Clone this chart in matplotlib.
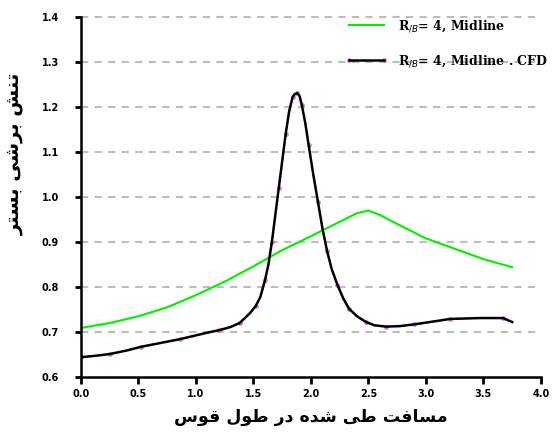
import matplotlib
matplotlib.use("Agg")
import matplotlib.pyplot as plt

# Midline bed shear stress along the bend
green_x = [0.0, 0.25, 0.5, 0.75, 1.0, 1.25, 1.5, 1.75, 2.0, 2.25, 2.4, 2.5, 2.6, 2.75, 3.0, 3.25, 3.5, 3.75]
green_y = [0.709, 0.720, 0.735, 0.755, 0.782, 0.812, 0.846, 0.882, 0.913, 0.945, 0.964, 0.970, 0.960, 0.940, 0.908, 0.885, 0.862, 0.844]

black_x = [0.0, 0.12, 0.25, 0.40, 0.52, 0.70, 0.86, 1.09, 1.20, 1.30, 1.38, 1.47, 1.52, 1.56, 1.60, 1.63, 1.66, 1.69,
           1.72, 1.75, 1.78, 1.81, 1.84, 1.86, 1.88, 1.90, 1.92, 1.95, 1.98, 2.02, 2.06, 2.10, 2.14, 2.18, 2.23,
           2.28, 2.33, 2.40, 2.48, 2.55, 2.65, 2.77, 2.90, 3.03, 3.21, 3.47, 3.67, 3.75]
black_y = [0.644, 0.647, 0.651, 0.659, 0.667, 0.676, 0.684, 0.698, 0.704, 0.711, 0.720, 0.742, 0.758, 0.778, 0.815, 0.850, 0.900, 0.960,
           1.020, 1.080, 1.140, 1.190, 1.222, 1.229, 1.231, 1.225, 1.205, 1.165, 1.115, 1.050, 0.990, 0.930, 0.880, 0.840, 0.805,
           0.775, 0.752, 0.735, 0.722, 0.715, 0.712, 0.713, 0.717, 0.722, 0.729, 0.731, 0.731, 0.722]

x_ticks = [0.0, 0.5, 1.0, 1.5, 2.0, 2.5, 3.0, 3.5, 4.0]
y_ticks = [0.6, 0.7, 0.8, 0.9, 1.0, 1.1, 1.2, 1.3, 1.4]

xlabel_fa = "مسافت طی شده در طول قوس"
ylabel_fa = "تنش برشی بستر"

# contextual forms: isolated, final, initial, medial
FORMS = {
    "م": "\uFEE1\uFEE2\uFEE3\uFEE4", "س": "\uFEB1\uFEB2\uFEB3\uFEB4",
    "ف": "\uFED1\uFED2\uFED3\uFED4", "ت": "\uFE95\uFE96\uFE97\uFE98",
    "ط": "\uFEC1\uFEC2\uFEC3\uFEC4", "ی": "\uFBFC\uFBFD\uFBFE\uFBFF",
    "ش": "\uFEB5\uFEB6\uFEB7\uFEB8", "ه": "\uFEE9\uFEEA\uFEEB\uFEEC",
    "ل": "\uFEDD\uFEDE\uFEDF\uFEE0", "ق": "\uFED5\uFED6\uFED7\uFED8",
    "ن": "\uFEE5\uFEE6\uFEE7\uFEE8", "ب": "\uFE8F\uFE90\uFE91\uFE92",
    "ا": "\uFE8D\uFE8E", "د": "\uFEA9\uFEAA", "ر": "\uFEAD\uFEAE", "و": "\uFEED\uFEEE",
}


def shape(text):
    out = []
    for word in text.split(" "):
        chars = []
        for i, c in enumerate(word):
            f = FORMS[c]
            prev_joins = i > 0 and len(FORMS[word[i - 1]]) == 4
            next_joins = len(f) == 4 and i < len(word) - 1
            if prev_joins and next_joins:
                chars.append(f[3])
            elif prev_joins:
                chars.append(f[1])
            elif next_joins:
                chars.append(f[2])
            else:
                chars.append(f[0])
        out.append("".join(chars))
    return " ".join(out)[::-1]


fig = plt.figure(figsize=(5.52, 4.43), dpi=100)
ax = fig.add_axes([0.1467, 0.149, 0.8333, 0.8126])

for yt in y_ticks[1:]:
    ax.axhline(yt, color="#bdbdbd", lw=1.5, ls=(0, (3.5, 3)), zorder=0, clip_on=False)

grn, = ax.plot(green_x, green_y, color="#00f000", lw=1.5)
pink, = ax.plot(black_x[::2], black_y[::2], color="#e070e0", lw=0, marker="o", ms=3.4, mec="none", zorder=2)
blk, = ax.plot(black_x, black_y, color="black", lw=1.8, zorder=3)

ax.set_xlim(0, 4.0)
ax.set_ylim(0.6, 1.4)
ax.set_xticks(x_ticks)
ax.set_yticks(y_ticks)
ax.set_xticklabels([f"{v:.1f}" for v in x_ticks], fontsize=7, fontweight="bold")
ax.set_yticklabels([f"{v:.1f}" for v in y_ticks], fontsize=7, fontweight="bold")
ax.tick_params(axis="x", direction="out", length=5, width=2, pad=4)
ax.tick_params(axis="y", direction="out", length=4, width=2, pad=12)

ax.spines["top"].set_visible(False)
ax.spines["right"].set_visible(False)
ax.spines["left"].set_linewidth(1.8)
ax.spines["bottom"].set_linewidth(1.8)

ax.set_xlabel(shape(xlabel_fa), fontsize=12.5, fontweight="bold", labelpad=6)
ax.set_ylabel(shape(ylabel_fa), fontsize=14, fontweight="bold")
ax.yaxis.set_label_coords(-0.125, 0.62)

labels = [r"R$_{/B}$= 4, Midline", r"R$_{/B}$= 4, Midline . CFD"]
fig.legend([grn, (pink, blk)], labels, loc="upper left", bbox_to_anchor=(0.605, 0.985), frameon=False,
           handlelength=3.4, labelspacing=1.6, numpoints=2,
           prop={"size": 9, "weight": "bold", "family": "serif"})

fig.savefig("out.png", dpi=100)
